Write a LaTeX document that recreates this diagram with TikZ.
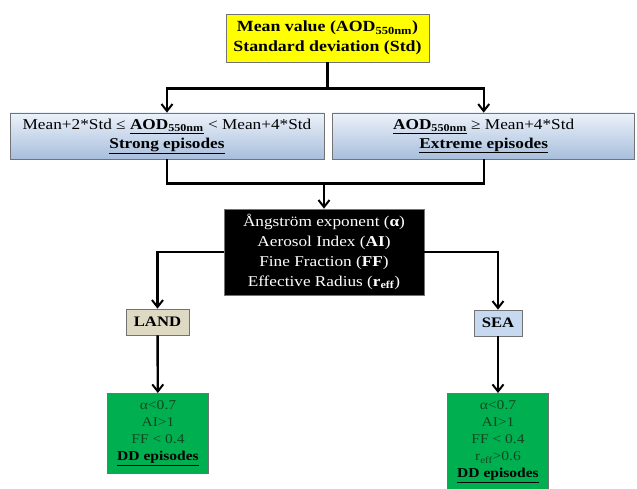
\documentclass[tikz,border=0pt]{standalone}
\usepackage{fontspec}
\setmainfont[FakeStretch=1.15]{Liberation Serif}
\usetikzlibrary{arrows.meta, positioning}

\definecolor{meanyellow}{RGB}{255,255,0}
\definecolor{bluetop}{RGB}{236,242,250}
\definecolor{bluebot}{RGB}{168,190,220}
\definecolor{landfill}{RGB}{221,217,195}
\definecolor{seafill}{RGB}{198,217,241}
\definecolor{ddgreen}{RGB}{0,176,80}
\definecolor{ddtext}{RGB}{18,72,32}

\begin{document}
\begin{tikzpicture}[
  x=1pt, y=-1pt,
  box/.style={draw=black!55, line width=0.7pt, align=center, inner sep=2pt},
  meanbox/.style={box, fill=meanyellow, font=\fontsize{15.5}{19.5}\selectfont\bfseries, minimum width=203pt, minimum height=48pt},
  classbox/.style={box, top color=bluetop, bottom color=bluebot, font=\fontsize{15}{19}\selectfont, minimum height=46pt},
  parbox/.style={box, fill=black, text=white, font=\fontsize{15}{20}\selectfont, minimum width=200pt, minimum height=86pt},
  surfbox/.style={box, font=\fontsize{14.5}{16}\selectfont\bfseries, minimum height=26pt},
  ddbox/.style={box, fill=ddgreen, text=ddtext, font=\fontsize{13.5}{17}\selectfont, minimum width=101pt, anchor=north},
  arrow/.style={-{Straight Barb[length=7pt, width=11pt, line width=2pt]}, line width=2.4pt},
  link/.style={line width=2.4pt}
]
\useasboundingbox (0,0) rectangle (637,489);

% Statistics
\node[meanbox] (mean) at (327.5,38) {Mean value (AOD\textsubscript{550nm})\\Standard deviation (Std)};

% Episode classes
\node[classbox, minimum width=314pt] (strong) at (167,136) {Mean+2*Std ≤ \underline{\textbf{AOD}\textsubscript{\textbf{550nm}}} < Mean+4*Std\\\underline{\textbf{Strong episodes}}};
\node[classbox, minimum width=302pt, right=8pt of strong] (extreme) {\underline{\textbf{AOD}\textsubscript{\textbf{550nm}}} ≥ Mean+4*Std\\\underline{\textbf{Extreme episodes}}};

% Optical properties
\node[parbox] (params) at (324,252) {Ångström exponent (\textbf{α})\\Aerosol Index (\textbf{AI})\\Fine Fraction (\textbf{FF})\\Effective Radius (\textbf{r\textsubscript{eff}})};

% Surface type
\node[surfbox, fill=landfill, minimum width=63pt] (land) at (157.5,322) {LAND};
\node[surfbox, fill=seafill, minimum width=48pt] (sea) at (498,323) {SEA};

% DD criteria
\node[ddbox, minimum height=80pt] (ddland) at (158,393) {α<0.7\\AI>1\\FF < 0.4\\\textcolor{black}{\underline{\textbf{DD episodes}}}};
\node[ddbox, minimum height=97pt] (ddsea) at (498,393) {α<0.7\\AI>1\\FF < 0.4\\r\textsubscript{eff}>0.6\\\textcolor{black}{\underline{\textbf{DD episodes}}}};

% Junctions
\coordinate[below=26pt of mean] (split);
\coordinate[above=25pt of params] (merge);

% Arrows
\draw[link] (mean.south) -- (split);
\draw[arrow] (split) -| (strong.north);
\draw[arrow] (split) -| (extreme.north);
\draw[link] (strong.south) |- (merge);
\draw[link] (extreme.south) |- (merge);
\draw[arrow] (merge) -- (params.north);
\draw[arrow] (params.west) -| (land.north);
\draw[arrow] (params.east) -| (sea.north);
\draw[arrow] (land) -- (ddland);
\draw[arrow] (sea) -- (ddsea);

\end{tikzpicture}
\end{document}
